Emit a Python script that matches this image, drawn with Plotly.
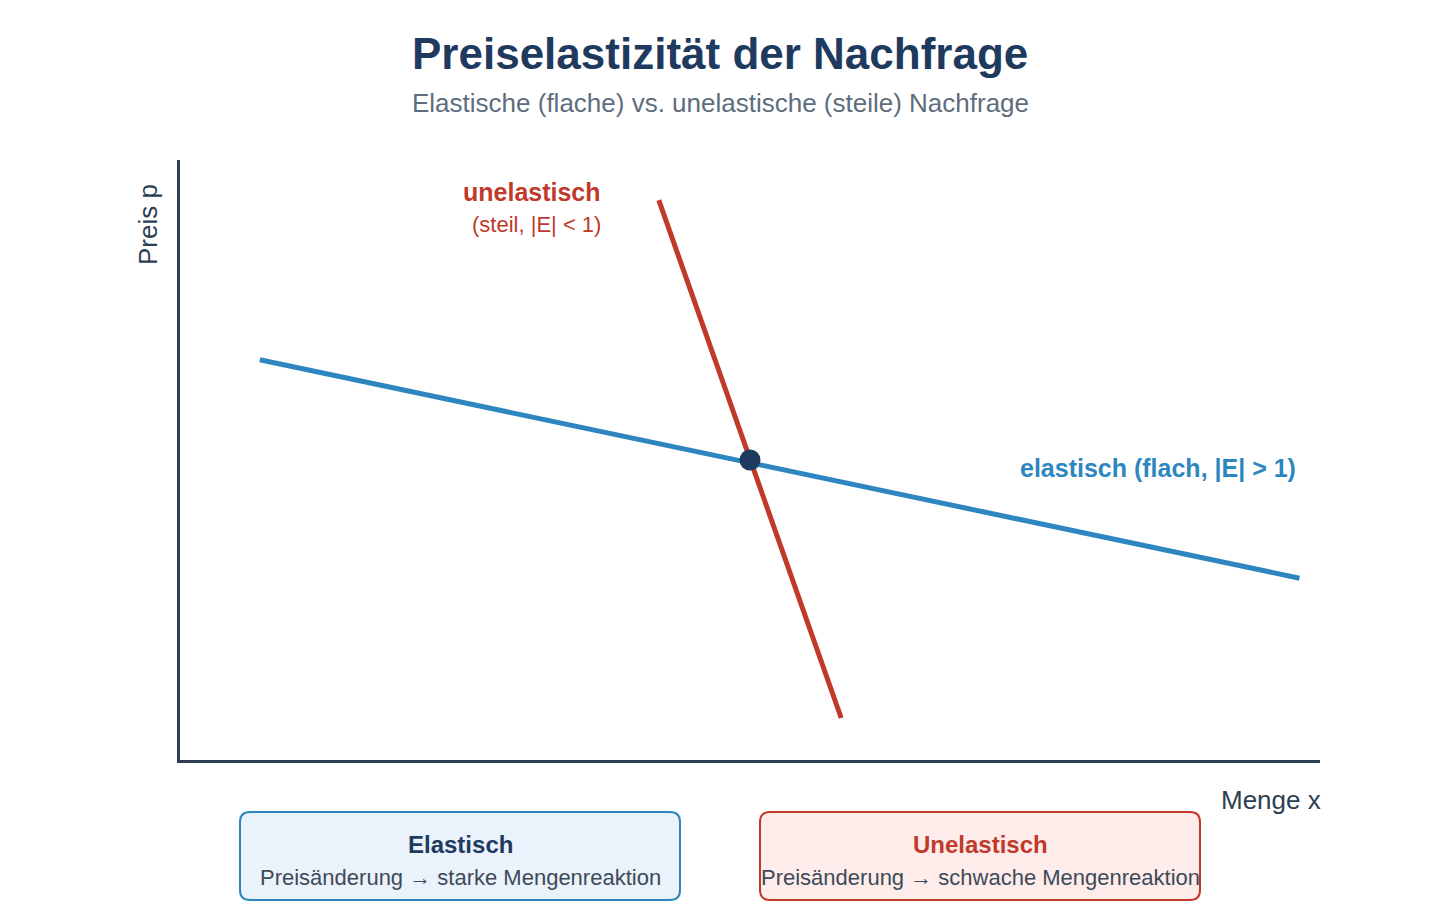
import plotly.graph_objects as go

# --- data ---
elastic_x = [0.7, 9.82]
elastic_y = [6.67, 3.03]
inelastic_x = [4.2, 5.8]
inelastic_y = [9.33, 0.7]
equilibrium_x = [5.0]
equilibrium_y = [5.0]

title = "Preiselastizität der Nachfrage"
subtitle = "Elastische (flache) vs. unelastische (steile) Nachfrage"

NAVY = "#1f3a5f"
BLUE = "#2e86c1"
RED = "#c0392b"
AXIS = "#2c3e50"
GRAY = "#5d6d7e"
FONT = "Liberation Sans, Arial, Helvetica, sans-serif"

W, H = 1440, 920
L, R, T, B = 180, 120, 160, 160
PW, PH = W - L - R, H - T - B


def px(x):
    return (x - L) / PW


def py(y):
    return (H - B - y) / PH


fig = go.Figure()
fig.add_trace(go.Scatter(x=elastic_x, y=elastic_y, mode="lines",
                         line=dict(color=BLUE, width=5), hoverinfo="skip"))
fig.add_trace(go.Scatter(x=inelastic_x, y=inelastic_y, mode="lines",
                         line=dict(color=RED, width=5), hoverinfo="skip"))
fig.add_trace(go.Scatter(x=equilibrium_x, y=equilibrium_y, mode="markers",
                         marker=dict(color=NAVY, size=21), hoverinfo="skip"))


def rounded(x0, y0, x1, y1, r=10):
    pts = [
        f"M {px(x0 + r)},{py(y0)}",
        f"L {px(x1 - r)},{py(y0)}",
        f"Q {px(x1)},{py(y0)} {px(x1)},{py(y0 + r)}",
        f"L {px(x1)},{py(y1 - r)}",
        f"Q {px(x1)},{py(y1)} {px(x1 - r)},{py(y1)}",
        f"L {px(x0 + r)},{py(y1)}",
        f"Q {px(x0)},{py(y1)} {px(x0)},{py(y1 - r)}",
        f"L {px(x0)},{py(y0 + r)}",
        f"Q {px(x0)},{py(y0)} {px(x0 + r)},{py(y0)}",
        "Z",
    ]
    return " ".join(pts)


shapes = [
    dict(type="path", xref="paper", yref="paper", path=rounded(240, 812, 680, 900),
         fillcolor="#eaf2fb", line=dict(color=BLUE, width=2)),
    dict(type="path", xref="paper", yref="paper", path=rounded(760, 812, 1200, 900),
         fillcolor="#fdecea", line=dict(color=RED, width=2)),
]


def ann(text, x, y, size, color, bold=False, xanchor="center", angle=0):
    return dict(text=f"<b>{text}</b>" if bold else text, x=px(x), y=py(y),
                xref="paper", yref="paper", xanchor=xanchor, yanchor="middle",
                showarrow=False, textangle=angle,
                font=dict(family=FONT, size=size, color=color))


annotations = [
    ann(title, 720, 54, 44, NAVY, bold=True),
    ann(subtitle, 720, 103, 26, GRAY),
    ann("Preis p", 148, 225, 26, AXIS, angle=-90),
    ann("Menge x", 1323, 800, 26, AXIS, xanchor="right"),
    ann("unelastisch", 603, 192, 25, RED, bold=True, xanchor="right"),
    ann("(steil, |E| &lt; 1)", 603, 225, 22, RED, xanchor="right"),
    ann("elastisch (flach, |E| &gt; 1)", 1298, 468, 25, BLUE, bold=True, xanchor="right"),
    ann("Elastisch", 460, 844, 24, NAVY, bold=True),
    ann("Preisänderung → starke Mengenreaktion", 460, 877, 22, "#3d4a57"),
    ann("Unelastisch", 980, 844, 24, RED, bold=True),
    ann("Preisänderung → schwache Mengenreaktion", 980, 877, 22, "#3d4a57"),
]

axis_common = dict(showgrid=False, zeroline=False, showticklabels=False, ticks="",
                   showline=True, linecolor=AXIS, linewidth=3, fixedrange=True)

fig.update_layout(
    width=W, height=H,
    margin=dict(l=L, r=R, t=T, b=B, pad=0),
    paper_bgcolor="white", plot_bgcolor="white",
    showlegend=False,
    xaxis=dict(range=[0, 10], **axis_common),
    yaxis=dict(range=[0, 10], **axis_common),
    shapes=shapes,
    annotations=annotations,
    font=dict(family=FONT),
)

fig.write_html("out.html", config={"displayModeBar": False})
